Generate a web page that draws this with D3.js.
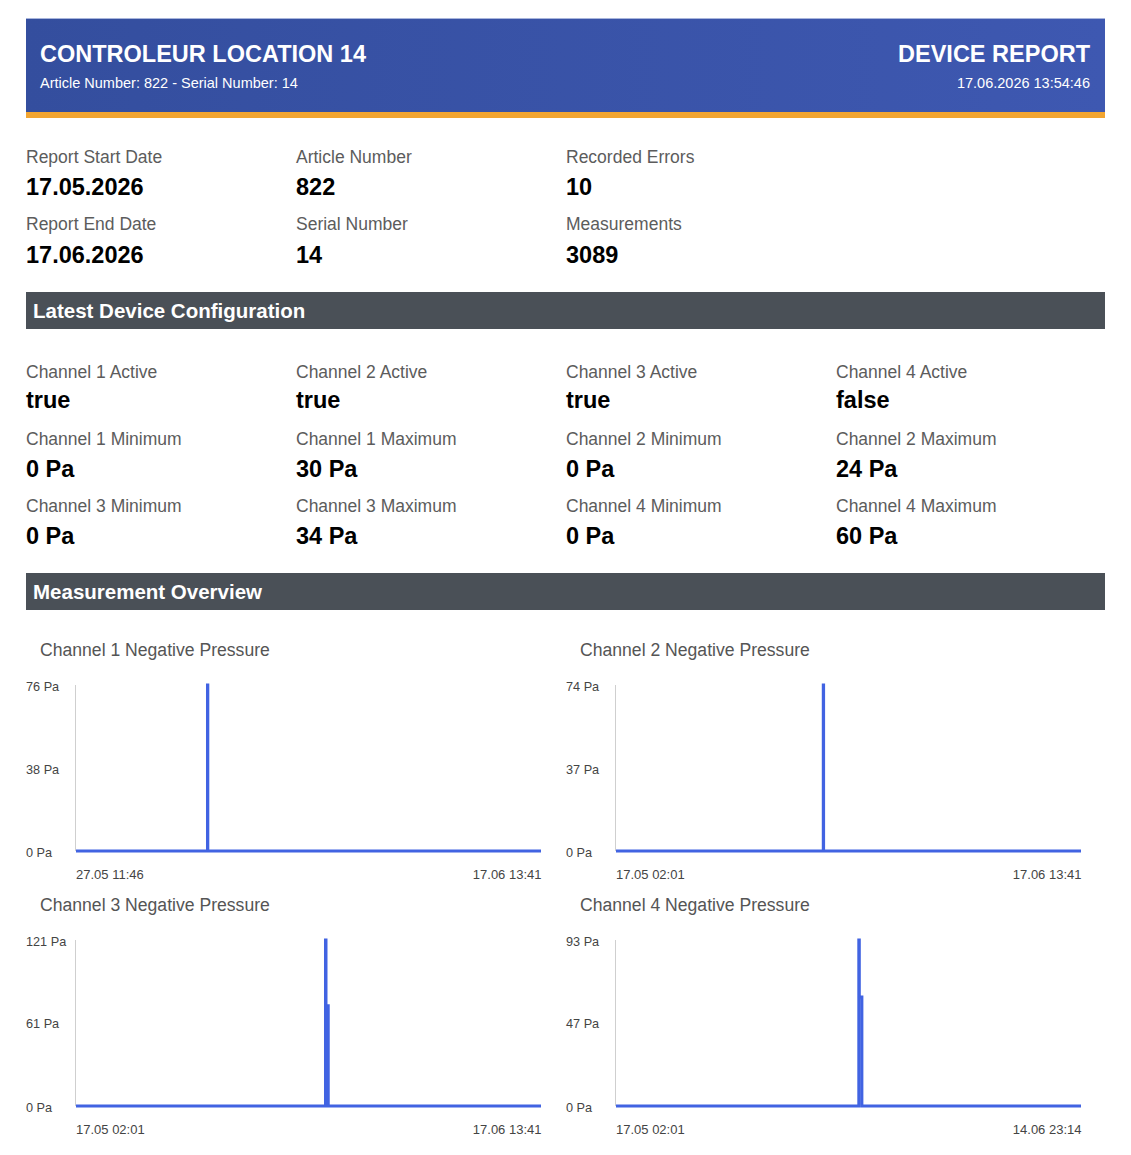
<!DOCTYPE html>
<html>
<head>
<meta charset="utf-8">
<script src="https://cdn.jsdelivr.net/npm/d3@7"></script>
<style>
  html, body { margin: 0; padding: 0; background: #fff; }
  svg { display: block; font-family: "Liberation Sans", Arial, Helvetica, sans-serif; }
</style>
</head>
<body>
<svg id="page" width="1131" height="1155"></svg>
<script>
// ---------- DATA ----------
const headerTitle = "CONTROLEUR LOCATION 14";
const headerSubtitle = "Article Number: 822 - Serial Number: 14";
const reportTitle = "DEVICE REPORT";
const reportTimestamp = "17.06.2026 13:54:46";

const infoLabels = ["Report Start Date", "Article Number", "Recorded Errors", "Report End Date", "Serial Number", "Measurements"];
const infoValues = ["17.05.2026", "822", "10", "17.06.2026", "14", "3089"];

const configLabels = [
  "Channel 1 Active", "Channel 2 Active", "Channel 3 Active", "Channel 4 Active",
  "Channel 1 Minimum", "Channel 1 Maximum", "Channel 2 Minimum", "Channel 2 Maximum",
  "Channel 3 Minimum", "Channel 3 Maximum", "Channel 4 Minimum", "Channel 4 Maximum"
];
const configValues = ["true", "true", "true", "false", "0 Pa", "30 Pa", "0 Pa", "24 Pa", "0 Pa", "34 Pa", "0 Pa", "60 Pa"];

const sectionTitles = ["Latest Device Configuration", "Measurement Overview"];

const chartTitles = ["Channel 1 Negative Pressure", "Channel 2 Negative Pressure", "Channel 3 Negative Pressure", "Channel 4 Negative Pressure"];

// time series per channel (dd.mm.yyyy HH:MM) and values in Pa (each value holds until the next reading)
const ch1Times  = ["27.05.2026 11:46", "02.06.2026 10:50", "02.06.2026 11:10", "17.06.2026 13:41"];
const ch1Values = [0, 76, 0, 0];
const ch2Times  = ["17.05.2026 02:01", "31.05.2026 02:53", "31.05.2026 03:22", "17.06.2026 13:41"];
const ch2Values = [0, 74, 0, 0];
const ch3Times  = ["17.05.2026 02:01", "02.06.2026 23:28", "03.06.2026 00:17", "03.06.2026 03:55", "17.06.2026 13:41"];
const ch3Values = [0, 121, 73, 0, 0];
const ch4Times  = ["17.05.2026 02:01", "01.06.2026 03:59", "01.06.2026 04:44", "01.06.2026 08:35", "14.06.2026 23:14"];
const ch4Values = [0, 93, 61, 0, 0];

// axis tick values (Pa) and x tick labels
const yTicks1 = [0, 38, 76];
const yTicks2 = [0, 37, 74];
const yTicks3 = [0, 61, 121];
const yTicks4 = [0, 47, 93];
const xLabels1 = ["27.05 11:46", "17.06 13:41"];
const xLabels2 = ["17.05 02:01", "17.06 13:41"];
const xLabels3 = ["17.05 02:01", "17.06 13:41"];
const xLabels4 = ["17.05 02:01", "14.06 23:14"];

// ---------- DRAW ----------
const svg = d3.select("#page");
const labelColor = "#5c5c5c";

// header
const defs = svg.append("defs");
const grad = defs.append("linearGradient").attr("id", "hdr").attr("x1", "0%").attr("x2", "100%");
grad.append("stop").attr("offset", "0%").attr("stop-color", "#344e9e");
grad.append("stop").attr("offset", "100%").attr("stop-color", "#3e58b1");
svg.append("rect").attr("x", 26).attr("y", 18).attr("width", 1079).attr("height", 94).attr("fill", "url(#hdr)");
svg.append("rect").attr("x", 26).attr("y", 18).attr("width", 1079).attr("height", 1).attr("fill", "#a8b5dc");
svg.append("rect").attr("x", 26).attr("y", 112).attr("width", 1079).attr("height", 6).attr("fill", "#f2a531");

svg.append("text").attr("x", 40).attr("y", 62).attr("fill", "#fff").attr("font-size", 23.5).attr("font-weight", "bold").text(headerTitle);
svg.append("text").attr("x", 40).attr("y", 87.5).attr("fill", "#fff").attr("font-size", 14.5).text(headerSubtitle);
svg.append("text").attr("x", 1090).attr("y", 62).attr("fill", "#fff").attr("font-size", 23.5).attr("font-weight", "bold").attr("text-anchor", "end").text(reportTitle);
svg.append("text").attr("x", 1090).attr("y", 87.5).attr("fill", "#fff").attr("font-size", 14.5).attr("text-anchor", "end").text(reportTimestamp);

// info grid
const colX = [26, 296, 566, 836];
const infoRows = [{l: 163, v: 195}, {l: 230, v: 263}];
infoLabels.forEach((lab, i) => {
  const r = Math.floor(i / 3), c = i % 3;
  svg.append("text").attr("x", colX[c]).attr("y", infoRows[r].l).attr("fill", labelColor).attr("font-size", 17.5).text(lab);
  svg.append("text").attr("x", colX[c]).attr("y", infoRows[r].v).attr("fill", "#000").attr("font-size", 23.5).attr("font-weight", "bold").text(infoValues[i]);
});

// section bars
const sectionY = [292, 573];
sectionTitles.forEach((t, i) => {
  svg.append("rect").attr("x", 26).attr("y", sectionY[i]).attr("width", 1079).attr("height", 37).attr("fill", "#4a5057");
  svg.append("text").attr("x", 33).attr("y", sectionY[i] + 26).attr("fill", "#fff").attr("font-size", 20.5).attr("font-weight", "bold").text(t);
});

// config grid
const cfgRows = [{l: 377.5, v: 408}, {l: 444.5, v: 476.5}, {l: 512, v: 544}];
configLabels.forEach((lab, i) => {
  const r = Math.floor(i / 4), c = i % 4;
  svg.append("text").attr("x", colX[c]).attr("y", cfgRows[r].l).attr("fill", labelColor).attr("font-size", 17.5).text(lab);
  svg.append("text").attr("x", colX[c]).attr("y", cfgRows[r].v).attr("fill", "#000").attr("font-size", 23.5).attr("font-weight", "bold").text(configValues[i]);
});

// charts
const parse = d3.timeParse("%d.%m.%Y %H:%M");
const charts = [
  {times: ch1Times, values: ch1Values, yTicks: yTicks1, xLabels: xLabels1, left: 26, top: 630},
  {times: ch2Times, values: ch2Values, yTicks: yTicks2, xLabels: xLabels2, left: 566, top: 630},
  {times: ch3Times, values: ch3Values, yTicks: yTicks3, xLabels: xLabels3, left: 26, top: 885},
  {times: ch4Times, values: ch4Values, yTicks: yTicks4, xLabels: xLabels4, left: 566, top: 885}
];

charts.forEach((ch, i) => {
  const g = svg.append("g").attr("transform", `translate(${ch.left},${ch.top})`);
  const pts = ch.times.map((t, k) => ({t: parse(t), v: ch.values[k]}));
  const x0 = 50, x1 = 515, yTop = 55, yBot = 221;
  const x = d3.scaleTime().domain(d3.extent(pts, d => d.t)).range([x0, x1]);
  const y = d3.scaleLinear().domain([0, d3.max(ch.yTicks)]).range([yBot, yTop]);

  g.append("text").attr("x", 14).attr("y", 26).attr("fill", "#555").attr("font-size", 17.6).text(chartTitles[i]);

  // vertical axis line
  g.append("line").attr("x1", x0 - 0.5).attr("x2", x0 - 0.5).attr("y1", yTop).attr("y2", yBot)
    .attr("stroke", "#cfcfcf").attr("stroke-width", 1);

  // y axis labels
  const ya = g.append("g").attr("transform", `translate(${x0},0)`)
    .call(d3.axisLeft(y).tickValues(ch.yTicks).tickSize(0).tickFormat(d => d + " Pa"));
  ya.select(".domain").remove();
  ya.selectAll("text").attr("x", -50).attr("dy", "0.4em").attr("text-anchor", "start")
    .attr("fill", "#444").attr("font-size", 12.7).attr("font-family", "Liberation Sans, Arial, sans-serif");

  // x axis labels (first & last)
  const dom = x.domain();
  const xa = g.append("g").attr("transform", `translate(0,${yBot})`)
    .call(d3.axisBottom(x).tickValues(dom).tickSize(0).tickFormat((d, k) => ch.xLabels[k]));
  xa.select(".domain").remove();
  xa.selectAll("text").attr("y", 0).attr("dy", 27.5)
    .attr("x", (d, k) => k === 0 ? -0.5 : 0)
    .attr("text-anchor", (d, k) => k === 0 ? "start" : "end")
    .attr("fill", "#444").attr("font-size", 13).attr("font-family", "Liberation Sans, Arial, sans-serif");

  // series line (reading holds until next reading)
  const line = d3.line().curve(d3.curveStepAfter).x(d => x(d.t)).y(d => y(d.v));
  g.append("path").datum(pts).attr("d", line)
    .attr("fill", "none").attr("stroke", "#4163e2").attr("stroke-width", 3)
    .attr("stroke-linejoin", "miter");
});
</script>
</body>
</html>
